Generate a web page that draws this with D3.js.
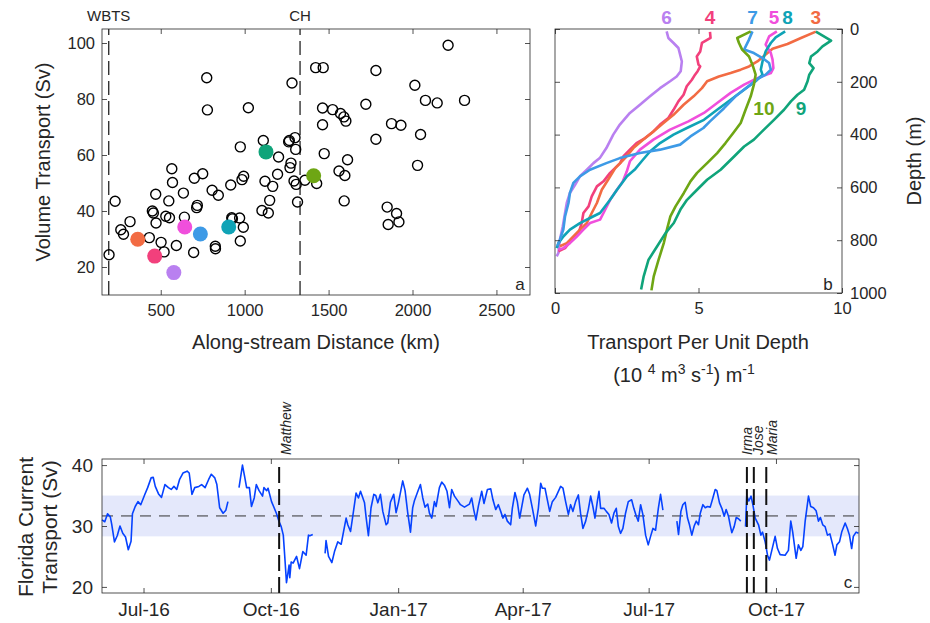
<!DOCTYPE html>
<html>
<head>
<meta charset="utf-8">
<script src="https://cdn.jsdelivr.net/npm/d3@7"></script>
<style>
  body { margin: 0; background: #fff; }
  text { font-family: "Liberation Sans", Arial, Helvetica, sans-serif; fill: #262626; }
</style>
</head>
<body>
<div id="chart"></div>
<script>
window.w = 930;
window.h = 623;

// ---- panel a: volume transport along the stream ----
const wbtsKm = 190, chKm = 1330;
const stationPts = [
  [192,24.4],[228,43.5],[262,33.3],[278,31.7],[317,36.2],[432,30.5],[456,39.3],[450,40.0],[470,46.0],[472,35.7],
  [502,28.8],[520,25.4],[530,38.1],[548,43.6],[552,37.6],[566,55.1],[570,50.2],[593,27.7],[635,46.4],[641,37.8],
  [696,25.2],[700,51.7],[714,41.2],[718,42.0],[750,53.3],[774,87.6],[778,76.1],[806,47.4],[825,27.4],[826,26.5],
  [843,45.6],[917,49.3],[923,37.6],[927,37.2],[970,37.5],[974,62.9],[974,29.3],[984,51.2],[994,52.4],[992,34.2],
  [1022,76.9],[1103,40.2],[1111,65.2],[1121,50.6],[1141,39.3],[1149,43.8],[1167,48.8],[1196,53.1],[1202,59.3],
  [1266,65.2],[1262,64.7],[1276,57.1],[1270,55.5],[1282,85.7],[1300,66.2],[1304,62.0],[1294,50.7],[1307,49.5],
  [1315,43.2],[1359,51.0],[1423,91.2],[1429,49.8],[1468,91.2],[1464,76.8],[1524,76.2],[1571,74.8],[1591,73.6],
  [1603,72.1],[1464,70.8],[1474,60.5],[1562,54.3],[1597,52.7],[1613,58.3],[1593,43.6],[1722,78.1],[1782,90.2],
  [1782,65.6],[1875,71.2],[1931,70.6],[1849,41.4],[1905,39.1],[1855,35.2],[1919,36.1],[2014,84.9],[2077,79.5],
  [2147,78.6],[2048,67.3],[2030,56.3],[2212,99.2],[2310,79.5]
];
const sectionIds = [3, 4, 6, 5, 7, 8, 9, 10];
const sectionKm  = [363, 464, 578, 643, 736, 905, 1127, 1411];
const sectionSv  = [29.9, 23.9, 18.0, 34.3, 31.8, 34.3, 61.1, 52.6];

// ---- panel b: transport per unit depth profiles [value, depth] ----
const prof3 = [[9.09,10],[8.57,34],[8.10,57],[7.58,75],[7.34,97],[7.05,123],[6.76,142],[6.47,154],[6.12,167],[5.71,180],[5.30,198],[5.12,224],[4.83,255],[4.48,287],[4.13,325],[3.78,356],[3.43,388],[3.08,419],[2.73,451],[2.44,489],[2.10,527],[1.85,571],[1.63,609],[1.46,659],[1.28,697],[1.11,735],[0.87,760],[0.64,786],[0.41,811],[0.17,823]];
const prof4 = [[5.40,11],[5.42,34],[5.12,53],[5.06,85],[4.94,104],[5.00,135],[5.06,142],[4.97,160],[4.88,173],[4.77,192],[4.59,217],[4.48,249],[4.30,274],[4.13,306],[3.95,337],[3.66,362],[3.43,388],[3.14,413],[2.84,432],[2.61,457],[2.38,483],[2.27,508],[1.92,545],[1.69,577],[1.46,596],[1.28,634],[1.17,672],[0.99,697],[0.93,735],[0.82,773],[0.58,798],[0.35,830],[0.12,842]];
const prof5 = [[7.73,9],[7.46,28],[7.34,59],[7.52,91],[7.58,116],[7.61,148],[7.52,167],[7.05,186],[6.59,211],[6.12,242],[5.65,280],[5.19,318],[4.65,350],[4.01,381],[3.43,419],[2.96,457],[2.61,501],[2.50,540],[2.35,580],[2.16,609],[1.92,647],[1.69,697],[1.57,722],[1.22,735],[0.99,760],[0.76,786],[0.52,811],[0.29,830],[0.12,836]];
const prof6 = [[3.89,9],[3.95,34],[4.13,53],[4.30,72],[4.36,97],[4.42,123],[4.38,160],[4.24,180],[4.01,198],[3.66,224],[3.31,255],[2.96,287],[2.61,318],[2.26,362],[2.03,400],[1.79,451],[1.56,489],[1.34,508],[1.11,533],[0.87,558],[0.70,590],[0.52,621],[0.41,659],[0.35,697],[0.27,748],[0.17,798],[0.12,848],[0.06,861]];
const prof7 = [[6.88,9],[6.76,40],[6.59,78],[6.93,91],[7.23,110],[7.46,129],[7.52,154],[7.34,173],[7.05,190],[6.70,220],[6.29,255],[5.89,300],[5.40,350],[5.17,375],[4.72,407],[4.36,438],[3.66,457],[2.96,470],[2.26,489],[1.79,508],[1.22,533],[0.87,558],[0.64,583],[0.52,621],[0.47,659],[0.35,710],[0.29,760],[0.17,798],[0.08,823]];
const prof8 = [[8.02,9],[7.69,32],[7.52,53],[7.34,85],[7.23,123],[7.17,154],[7.23,173],[6.99,198],[6.59,230],[6.12,268],[5.65,306],[5.19,344],[4.65,372],[4.13,400],[3.66,432],[3.31,464],[3.02,501],[2.80,530],[2.51,558],[2.16,609],[1.92,647],[1.57,697],[1.22,716],[0.87,735],[0.52,760],[0.29,786],[0.12,811],[0.06,830]];
const prof9 = [[9.09,10],[9.62,44],[9.32,66],[9.15,85],[8.92,104],[8.86,129],[9.01,148],[8.86,173],[8.80,198],[8.68,230],[8.45,249],[8.22,274],[7.98,306],[7.63,344],[7.28,381],[6.93,419],[6.59,445],[6.24,483],[5.77,533],[5.30,571],[4.95,609],[4.60,647],[4.37,684],[4.14,735],[3.85,773],[3.56,823],[3.26,874],[3.09,937],[3.00,987]];
const prof10 = [[6.82,9],[6.35,34],[6.41,53],[6.52,78],[6.76,104],[6.88,135],[6.99,173],[6.93,211],[6.82,255],[6.64,306],[6.47,356],[6.21,394],[5.94,432],[5.65,470],[5.30,508],[4.95,545],[4.72,577],[4.49,621],[4.20,672],[4.02,710],[3.90,760],[3.79,811],[3.61,874],[3.44,937],[3.36,990]];
const profiles = {3: prof3, 4: prof4, 5: prof5, 6: prof6, 7: prof7, 8: prof8, 9: prof9, 10: prof10};
const topLabelIds = [6, 4, 7, 5, 8, 3];

// ---- panel c: Florida Current transport, [days since 1 Jun 2016, Sv] ----
const startDate = new Date(2016, 5, 1);
const endDay = 547;
const fcMean = 31.65, fcStd = 3.35;
const fcTransport = [
  [0,31.0],[2,30.7],[4,32.0],[6,31.5],[7,30.3],[9,27.4],[11,28.4],[13,30.0],[15,28.8],[17,28.2],[19,26.1],[21,27.5],
  [22,32.0],[24,33.2],[26,34.0],[28,33.5],[31,35.2],[33,36.3],[35.5,37.9],[37,38.0],[38.5,36.5],[41,35.2],[43,34.7],
  [45.5,36.8],[48,36.3],[50,36.0],[52,36.5],[54,36.0],[56,37.6],[58.5,38.7],[61.5,39.0],[63,38.7],[65,35.2],[67,36.3],
  [70,36.5],[72,36.8],[74.5,36.3],[77,37.6],[79,38.5],[81.5,37.9],[83,36.8],[85,33.0],[87.5,32.1],[89.5,32.6],[91,34.0],
  [95,null],
  [99,36.3],[101.5,40.0],[103,38.2],[104.5,36.3],[106.5,36.3],[108,33.2],[110,34.6],[111.5,36.8],[113.5,35.8],[116,34.9],
  [117,36.3],[119,35.8],[120,36.2],[122.5,34.0],[124,33.2],[126,32.1],[128,30.7],[129.5,29.9],[131,28.5],[132,25.2],
  [133.3,20.7],[134.3,22.2],[135.2,23.6],[135.7,21.5],[136.7,24.1],[138.1,23.9],[140.6,25.0],[142.7,23.0],[145.1,25.8],
  [147.5,25.2],[149.2,28.5],[150.2,28.4],[152.3,28.6],
  [156,null],
  [161.2,25.5],[161.9,27.6],[163.7,25.0],[166.1,24.0],[168,25.8],[170.4,27.4],[172.8,27.0],[176.4,31.3],[177.6,30.2],
  [179.6,29.1],[181.2,31.6],[183.6,35.4],[185.3,34.6],[186.8,35.7],[189.7,33.8],[190.8,31.5],[192.5,28.4],[194.4,33.0],
  [196.4,35.2],[197.8,35.0],[199.3,33.8],[201.2,35.2],[202.9,32.4],[205.3,30.2],[206.5,30.5],[208.4,33.9],[210.8,35.2],
  [212.5,32.2],[214.2,33.8],[217.3,37.4],[219,35.8],[220.9,32.2],[222.9,29.0],[224.5,33.0],[225.8,34.2],[228.7,36.0],
  [230.1,36.8],[231.8,34.6],[233.4,33.1],[235.4,33.6],[236.6,32.1],[238.3,31.3],[240.2,34.0],[241.4,33.2],[243.8,36.3],
  [245.5,37.2],[247.4,36.7],[249.3,35.7],[251.1,33.0],[252.7,36.0],[254.7,34.9],[257.5,34.0],[259,33.5],[261.9,33.1],
  [265.5,33.6],[267.1,34.6],[268.6,32.7],[270.2,31.0],[272,33.3],[274.4,35.7],[276,33.7],[278.5,36.0],[280.9,36.1],
  [282.5,34.3],[284.5,32.7],[286.4,33.5],[288.1,32.4],[289.7,31.3],[291.2,31.9],[292.9,30.8],[295.3,30.2],[296.5,32.9],
  [298.4,35.5],[300.1,34.0],[301.8,31.3],[304.9,35.1],[307.4,36.2],[309,35.2],[311,32.9],[313.4,30.0],[315.3,32.9],
  [317,37.0],[318.2,36.2],[320.1,36.2],[321.8,34.3],[323.5,32.4],[325.4,34.0],[327.8,34.7],[331.4,36.5],[333.1,36.2],
  [335,34.0],[337,31.9],[338.6,33.5],[340.3,32.4],[342.2,34.0],[344.2,35.1],[345.8,32.1],[347.5,29.6],[349.5,30.8],
  [351.4,32.7],[353.1,34.9],[354.7,33.2],[356.2,31.3],[357.9,34.0],[359.1,35.7],[360.3,32.9],[362.7,32.9],[364.4,32.4],
  [366.3,31.9],[368.2,30.5],[369.9,32.1],[371.6,32.9],[373.1,29.9],[374.7,28.8],[376.4,29.6],[378.3,32.1],[380.3,34.0],
  [382.7,34.3],[384.3,32.9],[386.1,31.6],[387.5,30.8],[389.2,33.5],[390.8,31.9],[392.8,28.5],[394.7,26.9],[396.4,28.3],
  [398.1,29.6],[400,29.3],[402,32.9],[403.6,35.2],[405.3,32.6],
  [410,null],
  [415.4,30.8],[416.6,28.6],[418.3,32.4],[419.7,33.5],[421.4,33.9],[423.1,31.3],[424.5,30.2],[426.2,28.5],[427.9,30.0],
  [429.4,30.8],[431,30.2],[432.3,32.1],[434.2,33.5],[435.9,33.0],[437.5,33.2],[439.5,33.1],[441.4,34.6],[443.1,36.0],
  [444.3,35.8],[446.2,33.8],[447.9,32.9],[449.6,31.6],[451,32.7],[452.7,31.6],[453.9,30.2],[455.1,28.9],[456.8,29.9],
  [458.3,31.4],[459.9,31.2],[461.6,30.8],
  [463,null],
  [465,29.9],[465.9,34.9],[467.4,34.1],[469,34.9],[470.3,33.5],[472,31.3],[474.4,30.2],[476.1,28.5],[477.3,29.0],
  [479.2,27.4],[480.9,25.2],[482.3,24.4],[484,26.0],[486.4,28.3],[488.1,26.3],[490,25.3],[493.6,25.2],[496,26.0],
  [497.7,30.8],[499.1,29.0],[501.6,24.7],[503.2,26.9],[505,26.0],[506.4,26.6],[508.1,30.8],[510.5,34.9],[512.1,33.2],
  [514.1,33.0],[516,32.5],[517.7,30.8],[519.1,31.4],[520.8,30.2],[522.5,29.9],[524.2,28.5],[526,28.7],[528,26.9],
  [529.7,25.2],[531,26.9],[532.9,27.4],[534.5,29.0],[537,30.5],[538.6,29.6],[540.1,28.5],[541.7,26.3],[542.9,28.3],
  [544.9,29.0],[546.6,28.8]
];
const hurricaneNames = ["Matthew", "Irma", "Jose", "Maria"];
const hurricaneDates = ["2016-10-07", "2017-09-10", "2017-09-15", "2017-09-24"];
const monthTicks = ["2016-07-01", "2016-10-01", "2017-01-01", "2017-04-01", "2017-07-01", "2017-10-01"];

// colours for the numbered sections
const sectionColor = {3: "#f26b43", 4: "#f2407c", 5: "#f04fdc", 6: "#b980f0",
                      7: "#3d9ae6", 8: "#0fa3b6", 9: "#10a47a", 10: "#6ea614"};

const svg = d3.select("#chart")
  .append("svg")
  .attr("width", w)
  .attr("height", h);

const plain = d3.format("d");

function styleAxis(sel, fs) {
  sel.select(".domain").remove();
  sel.attr("font-family", null);
  sel.selectAll(".tick line").attr("stroke", "#262626").attr("stroke-width", 0.8);
  sel.selectAll("text").attr("font-size", fs).attr("fill", "#262626");
}

// box with inward ticks on all four sides
function frame(g, x, y, o) {
  const [x0, x1] = x.range();
  const ys = y.range(), yb = Math.max(...ys), yt = Math.min(...ys);
  g.append("g").attr("transform", "translate(0," + yb + ")")
    .call(d3.axisBottom(x).tickValues(o.xt).tickSize(-5).tickPadding(o.xpad).tickFormat(o.xf || plain))
    .call(styleAxis, o.fs);
  g.append("g").attr("transform", "translate(0," + yt + ")")
    .call(d3.axisTop(x).tickValues(o.xt).tickSize(-5).tickFormat(""))
    .call(styleAxis, o.fs);
  g.append("g").attr("transform", "translate(" + x0 + ",0)")
    .call(d3.axisLeft(y).tickValues(o.yt).tickSize(-5).tickPadding(o.ypad).tickFormat(o.yside === "left" ? plain : ""))
    .call(styleAxis, o.fs);
  g.append("g").attr("transform", "translate(" + x1 + ",0)")
    .call(d3.axisRight(y).tickValues(o.yt).tickSize(-5).tickPadding(o.ypad).tickFormat(o.yside === "right" ? plain : ""))
    .call(styleAxis, o.fs);
  g.append("rect")
    .attr("x", x0).attr("y", yt)
    .attr("width", x1 - x0).attr("height", yb - yt)
    .attr("fill", "none").attr("stroke", "#262626").attr("stroke-width", 0.8);
}

// ---------- panel a ----------
const xA = d3.scaleLinear().domain([150, 2700]).range([102, 530]);
const yA = d3.scaleLinear().domain([10, 105]).range([295, 29]);
const gA = svg.append("g");

[wbtsKm, chKm].forEach(km => {
  gA.append("line")
    .attr("x1", xA(km)).attr("x2", xA(km))
    .attr("y1", yA.range()[0]).attr("y2", yA.range()[1])
    .attr("stroke", "#333").attr("stroke-width", 1.4)
    .attr("stroke-dasharray", "14,6");
});
gA.append("text").attr("x", xA(wbtsKm)).attr("y", 21)
  .attr("text-anchor", "middle").attr("font-size", 15).text("WBTS");
gA.append("text").attr("x", xA(chKm)).attr("y", 21)
  .attr("text-anchor", "middle").attr("font-size", 15).text("CH");

gA.selectAll(".open").data(stationPts).enter()
  .append("circle")
  .attr("cx", d => xA(d[0])).attr("cy", d => yA(d[1]))
  .attr("r", 5).attr("fill", "none")
  .attr("stroke", "#000").attr("stroke-width", 1.4);

gA.selectAll(".sec").data(sectionIds).enter()
  .append("circle")
  .attr("cx", (d, i) => xA(sectionKm[i])).attr("cy", (d, i) => yA(sectionSv[i]))
  .attr("r", 7.5).attr("fill", d => sectionColor[d]);

frame(gA, xA, yA, {xt: [500, 1000, 1500, 2000, 2500], yt: [20, 40, 60, 80, 100],
                   fs: 16.5, xpad: 9, ypad: 7, yside: "left"});

gA.append("text").attr("x", 316).attr("y", 349)
  .attr("text-anchor", "middle").attr("font-size", 20).text("Along-stream Distance (km)");
gA.append("text").attr("transform", "translate(50,162) rotate(-90)")
  .attr("text-anchor", "middle").attr("font-size", 20).text("Volume Transport (Sv)");
gA.append("text").attr("x", 520).attr("y", 290)
  .attr("text-anchor", "middle").attr("font-size", 17).text("a");

// ---------- panel b (depth increases downward) ----------
const xB = d3.scaleLinear().domain([0, 10]).range([555, 842]);
const yB = d3.scaleLinear().domain([0, 1000]).range([29, 293]);
const gB = svg.append("g");

const profLine = d3.line().x(d => xB(d[0])).y(d => yB(d[1]));
[6, 4, 3, 5, 8, 7, 10, 9].forEach(id => {
  gB.append("path")
    .datum(profiles[id])
    .attr("fill", "none")
    .attr("stroke", sectionColor[id])
    .attr("stroke-width", 2.6)
    .attr("stroke-linejoin", "round")
    .attr("d", profLine);
});

// small nudges keep the crowded "5" and "8" readable
const labelNudge = {5: -0.1, 8: 0.08};
topLabelIds.forEach(id => {
  gB.append("text")
    .attr("x", xB(profiles[id][0][0] + (labelNudge[id] || 0))).attr("y", 24)
    .attr("text-anchor", "middle").attr("font-size", 19).attr("font-weight", "bold")
    .style("fill", sectionColor[id]).text(id);
});
gB.append("text").attr("x", xB(7.28)).attr("y", yB(325))
  .attr("text-anchor", "middle").attr("font-size", 19).attr("font-weight", "bold")
  .style("fill", sectionColor[10]).text("10");
gB.append("text").attr("x", xB(8.57)).attr("y", yB(325))
  .attr("text-anchor", "middle").attr("font-size", 19).attr("font-weight", "bold")
  .style("fill", sectionColor[9]).text("9");

frame(gB, xB, yB, {xt: [0, 5, 10], yt: [0, 200, 400, 600, 800, 1000],
                   fs: 16.5, xpad: 9, ypad: 8, yside: "right"});

gB.append("text").attr("x", 698).attr("y", 349)
  .attr("text-anchor", "middle").attr("font-size", 20).text("Transport Per Unit Depth");
const unit = gB.append("text").attr("x", 684).attr("y", 382)
  .attr("text-anchor", "middle").attr("font-size", 20);
unit.append("tspan").text("(10 ");
unit.append("tspan").attr("font-size", 14).attr("dy", -8).text("4");
unit.append("tspan").attr("dy", 8).text(" m");
unit.append("tspan").attr("font-size", 14).attr("dy", -8).text("3");
unit.append("tspan").attr("dy", 8).text(" s");
unit.append("tspan").attr("font-size", 14).attr("dy", -8).text("-1");
unit.append("tspan").attr("dy", 8).text(") m");
unit.append("tspan").attr("font-size", 14).attr("dy", -8).text("-1");
gB.append("text").attr("transform", "translate(921,161) rotate(-90)")
  .attr("text-anchor", "middle").attr("font-size", 20).text("Depth (m)");
gB.append("text").attr("x", 828).attr("y", 290)
  .attr("text-anchor", "middle").attr("font-size", 17).text("b");

// ---------- panel c ----------
const parseDay = d3.timeParse("%Y-%m-%d");
const toDate = d => new Date(+startDate + d * 864e5);
const xC = d3.scaleTime().domain([startDate, toDate(endDay)]).range([102, 859]);
const yC = d3.scaleLinear().domain([19, 41]).range([593, 459]);
const gC = svg.append("g");

gC.append("rect")
  .attr("x", xC.range()[0]).attr("width", xC.range()[1] - xC.range()[0])
  .attr("y", yC(fcMean + fcStd)).attr("height", yC(fcMean - fcStd) - yC(fcMean + fcStd))
  .attr("fill", "#e4e8fb");
gC.append("line")
  .attr("x1", xC.range()[0]).attr("x2", xC.range()[1])
  .attr("y1", yC(fcMean)).attr("y2", yC(fcMean))
  .attr("stroke", "#333").attr("stroke-width", 1).attr("stroke-dasharray", "11,8");

gC.append("path")
  .datum(fcTransport)
  .attr("fill", "none")
  .attr("stroke", "#0642ff")
  .attr("stroke-width", 1.6)
  .attr("stroke-linejoin", "round")
  .attr("d", d3.line()
    .defined(d => d[1] != null)
    .x(d => xC(toDate(d[0])))
    .y(d => yC(d[1])));

const nameShift = {Matthew: 12, Irma: 5, Jose: 9, Maria: 11};
hurricaneDates.forEach((ds, i) => {
  const hx = xC(parseDay(ds));
  gC.append("line")
    .attr("x1", hx).attr("x2", hx)
    .attr("y1", yC.range()[0]).attr("y2", yC.range()[1] + 8)
    .attr("stroke", "#111").attr("stroke-width", 2)
    .attr("stroke-dasharray", "16,6");
  gC.append("text")
    .attr("transform", "translate(" + (hx + nameShift[hurricaneNames[i]]) + ",455) rotate(-90)")
    .attr("font-size", 14).attr("font-style", "italic")
    .text(hurricaneNames[i]);
});

frame(gC, xC, yC, {xt: monthTicks.map(parseDay), yt: [20, 30, 40],
                   xf: d3.timeFormat("%b-%y"), fs: 19, xpad: 10, ypad: 9, yside: "left"});

gC.append("text").attr("transform", "translate(33,527) rotate(-90)")
  .attr("text-anchor", "middle").attr("font-size", 21).text("Florida Current");
gC.append("text").attr("transform", "translate(57,527) rotate(-90)")
  .attr("text-anchor", "middle").attr("font-size", 21).text("Transport (Sv)");
gC.append("text").attr("x", 848).attr("y", 588)
  .attr("text-anchor", "middle").attr("font-size", 17).text("c");
</script>
</body>
</html>
